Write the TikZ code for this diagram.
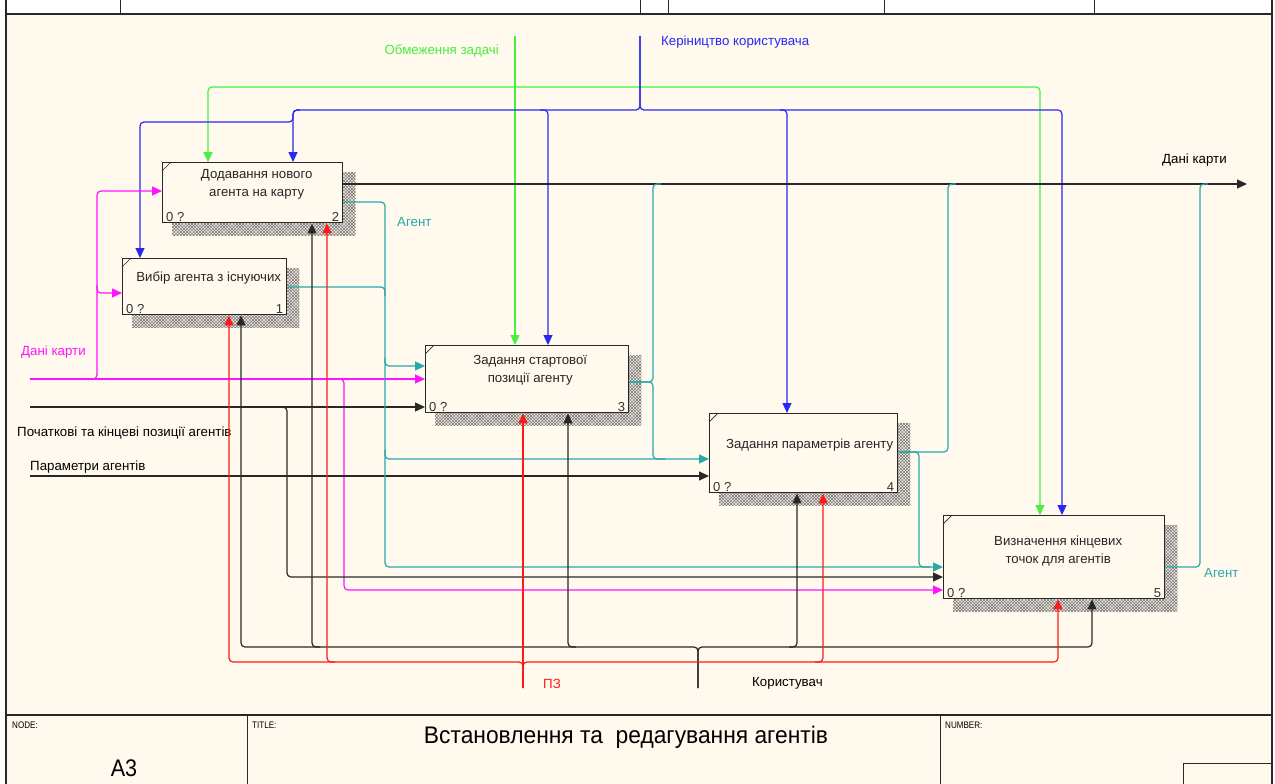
\documentclass[tikz,border=0pt]{standalone}
\usepackage{fontspec}
\setmainfont{Liberation Sans}
\usetikzlibrary{arrows.meta,calc,patterns}

\definecolor{paper}{RGB}{255,249,238}
\definecolor{ctrlgreen}{RGB}{70,240,60}
\definecolor{ctrlblue}{RGB}{40,40,245}
\definecolor{mapmag}{RGB}{255,20,255}
\definecolor{agteal}{RGB}{40,168,168}
\definecolor{swred}{RGB}{255,25,25}
\definecolor{inkgray}{RGB}{40,40,40}

% fine diagonal cross hatching for the activity box shadows
\pgfdeclarepatternformonly{idefhatch}{\pgfqpoint{-0.5pt}{-0.5pt}}{\pgfqpoint{3.7pt}{3.7pt}}{\pgfqpoint{3.2pt}{3.2pt}}{%
  \pgfsetlinewidth{0.45pt}%
  \pgfpathmoveto{\pgfqpoint{0pt}{0pt}}\pgfpathlineto{\pgfqpoint{3.2pt}{3.2pt}}%
  \pgfpathmoveto{\pgfqpoint{0pt}{3.2pt}}\pgfpathlineto{\pgfqpoint{3.2pt}{0pt}}%
  \pgfusepath{stroke}}

\pgfdeclarelayer{paperlayer}
\pgfdeclarelayer{shadowlayer}
\pgfsetlayers{paperlayer,shadowlayer,main}

\tikzset{
  frameline/.style={draw=inkgray, line width=1.6pt},
  thinframe/.style={draw=inkgray, line width=1pt},
  actbox/.style={draw=inkgray, line width=1.4pt, fill=paper, anchor=north west, inner sep=0pt},
  boxtext/.style={font=\fontsize{13.2}{18}\selectfont, align=center, text=black!85},
  cornertext/.style={font=\fontsize{13}{15}\selectfont, text=black!80, inner sep=1pt},
  conn/.style={line width=1.2pt, rounded corners=4pt},
  tip/.style={-{Triangle[length=10pt,width=9pt]}},
  lbl/.style={font=\fontsize{13.3}{15}\selectfont, inner sep=0pt},
  smalllbl/.style={font=\fontsize{9.5}{11}\selectfont, inner sep=0pt, anchor=north west, text=black},
}

\begin{document}
\begin{tikzpicture}[x=1pt,y=-1pt]
\useasboundingbox (0,0) rectangle (1275,784);

% sheet
\begin{pgfonlayer}{paperlayer}
  \fill[white] (0,0) rectangle (1275,784);
  \fill[paper] (6,14) rectangle (1272,784);
\end{pgfonlayer}

% frame and header row
\draw[frameline] (6,0) -- (6,784);
\draw[frameline] (1272,0) -- (1272,784);
\draw[frameline] (6,14) -- (1272,14);
\foreach \hx in {120,640,668,884,1094} \draw[thinframe] (\hx,0) -- (\hx,14);

% title block
\draw[frameline] (6,715) -- (1272,715);
\draw[thinframe] (247,715) -- (247,784);
\draw[thinframe] (940,715) -- (940,784);
\draw[thinframe] (1183,784) -- (1183,763) -- (1272,763);
\node[smalllbl] (nodelbl) at (12,722) {\scalebox{0.85}[1]{NODE:}};
\node[smalllbl] (titlelbl) at (252,722) {\scalebox{0.85}[1]{TITLE:}};
\node[smalllbl] (numlbl) at (945,722) {\scalebox{0.85}[1]{NUMBER:}};
\node[font=\fontsize{24}{26}\selectfont, inner sep=0pt] (nodeid) at (124,768) {\scalebox{0.9}[1]{A3}};
\node[font=\fontsize{24}{26}\selectfont, inner sep=0pt] (diagtitle) at (626,737)
  {\scalebox{0.95}[1]{Встановлення та\ \ редагування агентів}};

% activity boxes
\node[actbox, minimum width=164pt, minimum height=56pt] (b1) at (122,258) {};
\node[actbox, minimum width=180pt, minimum height=60pt] (b2) at (162,162) {};
\node[actbox, minimum width=203pt, minimum height=67pt] (b3) at (425,345) {};
\node[actbox, minimum width=188pt, minimum height=79pt] (b4) at (709,413) {};
\node[actbox, minimum width=221pt, minimum height=83pt] (b5) at (943,515) {};

\begin{pgfonlayer}{shadowlayer}
  \foreach \b in {b1,b2,b3,b4,b5}
    \fill[pattern=idefhatch, pattern color=black!60]
      ($(\b.north west)+(10,10)$) rectangle ($(\b.south east)+(12,12)$);
\end{pgfonlayer}
\foreach \b in {b1,b2,b3,b4,b5}
  \draw[inkgray, line width=0.7pt] ($(\b.north west)+(0,9)$) -- ($(\b.north west)+(9,0)$);

% box titles
\node[boxtext] (t1) at ($(b1.north)+(4,20)$) {Вибір агента з існуючих};
\node[boxtext] (t2) at ($(b2.north)+(4,22.5)$) {Додавання нового\\агента на карту};
\node[boxtext] (t3) at ($(b3.north)+(3,25.5)$) {Задання стартової\\позиції агенту};
\node[boxtext] (t4) at ($(b4.north)+(6,32)$) {Задання параметрів агенту};
\node[boxtext] (t5) at ($(b5.north)+(4,36)$) {Визначення кінцевих\\точок для агентів};

% box corner marks
\foreach \b/\n in {b1/1,b2/2,b3/3,b4/4,b5/5}{
  \node[cornertext, anchor=south west] at ($(\b.south west)+(3,-1)$) {0 ?};
  \node[cornertext, anchor=south east] at ($(\b.south east)+(-3,-1)$) {\n};
}

% free ends of the boundary arrows
\coordinate (gTop) at (515,36);
\coordinate (bTop) at (640,36);
\coordinate (mapIn) at (30,379);
\coordinate (posIn) at (30,407);
\coordinate (parIn) at (30,476);
\coordinate (mapOut) at (1247,184);
\coordinate (userIn) at (698,688);
\coordinate (swIn) at (523,688);

% controls: task constraints
\draw[conn, ctrlgreen, tip] (gTop) -- (515,0 |- b3.north);
\draw[conn, ctrlgreen, tip] (515,87) -- (208,87) -- (208,0 |- b2.north);
\draw[conn, ctrlgreen, tip] (515,87) -- (1040,87) -- (1040,0 |- b5.north);
\node[lbl, text=ctrlgreen, anchor=east] (lblg) at (499,51) {Обмеження задачі};

% controls: user guidance
\draw[conn, ctrlblue, tip] (bTop) -- (640,110) -- (293,110) -- (293,0 |- b2.north);
\draw[conn, ctrlblue, tip] (bTop) -- (640,110) -- (1062,110) -- (1062,0 |- b5.north);
\draw[conn, ctrlblue, tip] (300,110) -- (293,110) -- (293,122) -- (140,122) -- (140,0 |- b1.north);
\draw[conn, ctrlblue, tip] (540,110) -- (548,110) -- (548,0 |- b3.north);
\draw[conn, ctrlblue, tip] (780,110) -- (787,110) -- (787,0 |- b4.north);
\node[lbl, text=ctrlblue, anchor=west] (lblb) at (661,42) {Керіництво користувача};

% input: map data
\draw[conn, mapmag, tip] (mapIn) -- (b3.west |- 0,379);
\draw[conn, mapmag, tip] (88,379) -- (97,379) -- (97,191) -- (b2.west |- 0,191);
\draw[conn, mapmag, tip] (97,285) -- (97,293) -- (b1.west |- 0,293);
\draw[conn, mapmag, tip] (335,379) -- (344,379) -- (344,590) -- (b5.west |- 0,590);
\node[lbl, text=mapmag, anchor=west] (lblm) at (21,352) {Дані карти};

% input: start and end positions
\draw[conn, inkgray, tip] (posIn) -- (b3.west |- 0,407);
\draw[conn, inkgray, tip] (279,407) -- (287,407) -- (287,577) -- (b5.west |- 0,577);
\node[lbl, text=black, anchor=west] (lblp) at (17,433) {Початкові та кінцеві позиції агентів};

% input: agent parameters
\draw[conn, inkgray, tip] (parIn) -- (b4.west |- 0,476);
\node[lbl, text=black, anchor=west] (lblpar) at (30,467) {Параметри агентів};

% output: map data
\draw[conn, inkgray, tip] (b2.east |- 0,184) -- (mapOut);
\node[lbl, text=black, anchor=west] (lblmo) at (1162,160) {Дані карти};

% agent flows
\draw[conn, agteal, tip] (b2.east |- 0,202) -- (385,202) -- (385,567) -- (b5.west |- 0,567);
\draw[conn, agteal] (b1.east |- 0,287) -- (385,287) -- (385,296);
\draw[conn, agteal, tip] (385,358) -- (385,366) -- (b3.west |- 0,366);
\draw[conn, agteal, tip] (385,450) -- (385,459) -- (b4.west |- 0,459);
\draw[conn, agteal] (b3.east |- 0,382) -- (653,382) -- (653,184) -- (661,184);
\draw[conn, agteal] (b3.east |- 0,382) -- (653,382) -- (653,459) -- (665,459);
\draw[conn, agteal] (b4.east |- 0,452) -- (948,452) -- (948,184) -- (956,184);
\draw[conn, agteal] (b4.east |- 0,452) -- (919,452) -- (919,567) -- (930,567);
\draw[conn, agteal] (b5.east |- 0,567) -- (1200,567) -- (1200,184) -- (1208,184);
\node[lbl, text=agteal, anchor=west] (lbla1) at (397,222) {Агент};
\node[lbl, text=agteal, anchor=west] (lbla2) at (1204,573) {Агент};

% mechanism: user
\draw[conn, inkgray, tip] (userIn) -- (698,647) -- (241,647) -- (241,0 |- b1.south);
\draw[conn, inkgray, tip] (userIn) -- (698,647) -- (1092,647) -- (1092,0 |- b5.south);
\draw[conn, inkgray, tip] (320,647) -- (312,647) -- (312,0 |- b2.south);
\draw[conn, inkgray, tip] (576,647) -- (568,647) -- (568,0 |- b3.south);
\draw[conn, inkgray, tip] (789,647) -- (797,647) -- (797,0 |- b4.south);
\node[lbl, text=black, anchor=west] (lblu) at (752,683) {Користувач};

% mechanism: software
\draw[conn, swred, tip] (swIn) -- (523,662) -- (229,662) -- (229,0 |- b1.south);
\draw[conn, swred, tip] (swIn) -- (523,662) -- (1058,662) -- (1058,0 |- b5.south);
\draw[conn, swred, tip] (swIn) -- (523,0 |- b3.south);
\draw[conn, swred, tip] (335,662) -- (327,662) -- (327,0 |- b2.south);
\draw[conn, swred, tip] (815,662) -- (823,662) -- (823,0 |- b4.south);
\node[lbl, text=swred, anchor=west] (lblsw) at (543,684) {ПЗ};
\end{tikzpicture}
\end{document}
